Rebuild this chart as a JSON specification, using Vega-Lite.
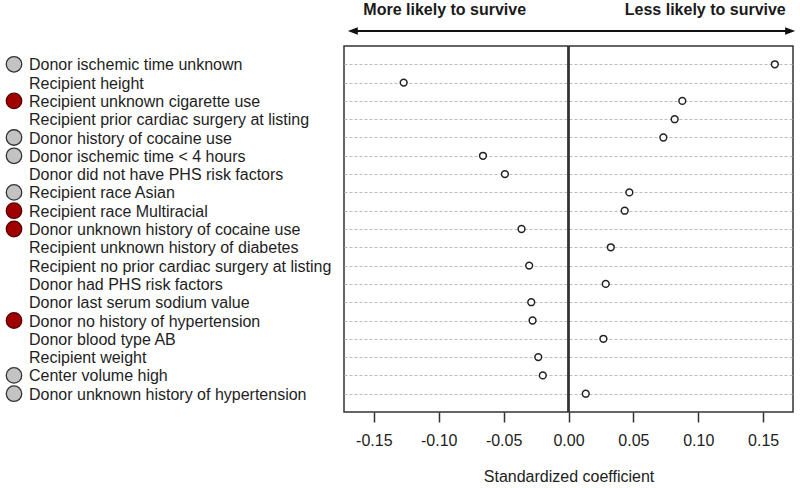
{
  "$schema": "https://vega.github.io/schema/vega-lite/v6.json",
  "padding": 0,
  "background": "white",
  "config": {
    "font": "Liberation Sans",
    "view": {"stroke": null},
    "text": {"font": "Liberation Sans"}
  },
  "data": {
    "values": [
      {"variable": "Donor ischemic time unknown", "coef": 0.159, "marker": "gray"},
      {"variable": "Recipient height", "coef": -0.127, "marker": "none"},
      {"variable": "Recipient unknown cigarette use", "coef": 0.0877, "marker": "red"},
      {"variable": "Recipient prior cardiac surgery at listing", "coef": 0.0818, "marker": "none"},
      {"variable": "Donor history of cocaine use", "coef": 0.0731, "marker": "gray"},
      {"variable": "Donor ischemic time < 4 hours", "coef": -0.0659, "marker": "gray"},
      {"variable": "Donor did not have PHS risk factors", "coef": -0.049, "marker": "none"},
      {"variable": "Recipient race Asian", "coef": 0.0469, "marker": "gray"},
      {"variable": "Recipient race Multiracial", "coef": 0.0433, "marker": "red"},
      {"variable": "Donor unknown history of cocaine use", "coef": -0.0362, "marker": "red"},
      {"variable": "Recipient unknown history of diabetes", "coef": 0.0326, "marker": "none"},
      {"variable": "Recipient no prior cardiac surgery at listing", "coef": -0.0303, "marker": "none"},
      {"variable": "Donor had PHS risk factors", "coef": 0.0287, "marker": "none"},
      {"variable": "Donor last serum sodium value", "coef": -0.0287, "marker": "none"},
      {"variable": "Donor no history of hypertension", "coef": -0.0277, "marker": "red"},
      {"variable": "Donor blood type AB", "coef": 0.0269, "marker": "none"},
      {"variable": "Recipient weight", "coef": -0.0233, "marker": "none"},
      {"variable": "Center volume high", "coef": -0.0198, "marker": "gray"},
      {"variable": "Donor unknown history of hypertension", "coef": 0.0133, "marker": "gray"}
    ]
  },
  "columns": 2,
  "align": "each",
  "spacing": {"row": 8, "column": 8},
  "concat": [
    {
      "width": 335,
      "height": 36,
      "data": {"values": []},
      "mark": "point",
      "encoding": {}
    },
    {
      "width": 449,
      "height": 36,
      "data": {"values": [{"note": "More likely to survive", "pos": "left"}, {"note": "Less likely to survive", "pos": "right"}]},
      "layer": [
        {
          "mark": {"type": "text", "fontWeight": "bold", "fontSize": 16, "color": "#1a1a1a", "baseline": "alphabetic", "align": "center"},
          "encoding": {
            "x": {"datum": -0.0954, "type": "quantitative", "scale": {"domain": [-0.173, 0.173], "nice": false, "zero": false}, "axis": null},
            "y": {"datum": 0.583, "type": "quantitative", "scale": {"domain": [0, 1], "nice": false, "zero": false}, "axis": null},
            "text": {"field": "note"}
          },
          "transform": [{"filter": "datum.pos === 'left'"}]
        },
        {
          "mark": {"type": "text", "fontWeight": "bold", "fontSize": 16, "color": "#1a1a1a", "baseline": "alphabetic", "align": "center"},
          "encoding": {
            "x": {"datum": 0.1054, "type": "quantitative"},
            "y": {"datum": 0.583, "type": "quantitative"},
            "text": {"field": "note"}
          },
          "transform": [{"filter": "datum.pos === 'right'"}]
        },
        {
          "mark": {"type": "rule", "color": "#111", "strokeWidth": 2},
          "encoding": {
            "x": {"datum": -0.166, "type": "quantitative"},
            "x2": {"datum": 0.171},
            "y": {"datum": 0.139, "type": "quantitative"}
          },
          "transform": [{"filter": "datum.pos === 'left'"}]
        },
        {
          "mark": {"type": "point", "shape": "M -1 0 L 1 -0.75 L 1 0.75 Z", "filled": true, "color": "#111", "size": 100, "opacity": 1},
          "encoding": {
            "x": {"datum": -0.1662, "type": "quantitative"},
            "y": {"datum": 0.139, "type": "quantitative"}
          },
          "transform": [{"filter": "datum.pos === 'left'"}]
        },
        {
          "mark": {"type": "point", "shape": "M 1 0 L -1 -0.75 L -1 0.75 Z", "filled": true, "color": "#111", "size": 100, "opacity": 1},
          "encoding": {
            "x": {"datum": 0.1708, "type": "quantitative"},
            "y": {"datum": 0.139, "type": "quantitative"}
          },
          "transform": [{"filter": "datum.pos === 'right'"}]
        }
      ]
    },
    {
      "width": 335,
      "height": 366,
      "layer": [
        {
          "transform": [{"filter": "datum.marker !== 'none'"}],
          "mark": {"type": "point", "shape": "circle", "filled": true, "size": 240, "strokeWidth": 1.3, "opacity": 1},
          "encoding": {
            "x": {"datum": 0.0418, "type": "quantitative", "scale": {"domain": [0, 1], "nice": false, "zero": false}, "axis": null},
            "y": {"field": "variable", "type": "nominal", "sort": null, "axis": null,
              "scale": {"type": "point", "padding": 1, "domain": [
                "Donor ischemic time unknown", "Recipient height", "Recipient unknown cigarette use",
                "Recipient prior cardiac surgery at listing", "Donor history of cocaine use",
                "Donor ischemic time < 4 hours", "Donor did not have PHS risk factors",
                "Recipient race Asian", "Recipient race Multiracial", "Donor unknown history of cocaine use",
                "Recipient unknown history of diabetes", "Recipient no prior cardiac surgery at listing",
                "Donor had PHS risk factors", "Donor last serum sodium value", "Donor no history of hypertension",
                "Donor blood type AB", "Recipient weight", "Center volume high", "Donor unknown history of hypertension"
              ]}},
            "fill": {"field": "marker", "type": "nominal", "scale": {"domain": ["gray", "red"], "range": ["#c3c3c3", "#a00000"]}, "legend": null},
            "stroke": {"field": "marker", "type": "nominal", "scale": {"domain": ["gray", "red"], "range": ["#333333", "#5a0000"]}, "legend": null}
          }
        },
        {
          "mark": {"type": "text", "align": "left", "baseline": "middle", "fontSize": 16, "color": "#1e1e1e", "dy": 1},
          "encoding": {
            "x": {"datum": 0.0866, "type": "quantitative"},
            "y": {"field": "variable", "type": "nominal", "sort": null},
            "text": {"field": "variable"}
          }
        }
      ]
    },
    {
      "width": 449,
      "height": 366,
      "view": {"stroke": "#333", "strokeWidth": 1.5},
      "layer": [
        {
          "mark": {"type": "rule", "color": "#333", "strokeWidth": 1.2},
          "encoding": {
            "x": {"datum": 0, "type": "quantitative"}
          }
        },
        {
          "mark": {"type": "point", "shape": "circle", "fill": "white", "stroke": "#222", "strokeWidth": 1.5, "size": 46, "opacity": 1},
          "encoding": {
            "x": {
              "field": "coef", "type": "quantitative",
              "scale": {"domain": [-0.173, 0.173], "nice": false, "zero": false},
              "axis": {
                "values": [-0.15, -0.1, -0.05, 0, 0.05, 0.1, 0.15],
                "labelExpr": "replace(format(datum.value, '.2f'), '\u2212', '-')",
                "grid": false,
                "domain": false,
                "tickSize": 10,
                "tickWidth": 1.5,
                "tickColor": "#333",
                "labelFontSize": 16,
                "labelColor": "#222",
                "labelPadding": 10,
                "title": "Standardized coefficient",
                "titleFontSize": 16,
                "titleFontWeight": "normal",
                "titleColor": "#222",
                "titlePadding": 20
              }
            },
            "y": {
              "field": "variable", "type": "nominal", "sort": null,
              "scale": {"type": "point", "padding": 1},
              "axis": {"labels": false, "ticks": false, "domain": false, "grid": true, "gridDash": [3, 2], "gridColor": "#bdbdbd", "gridWidth": 1, "title": null}
            }
          }
        }
      ]
    }
  ]
}
